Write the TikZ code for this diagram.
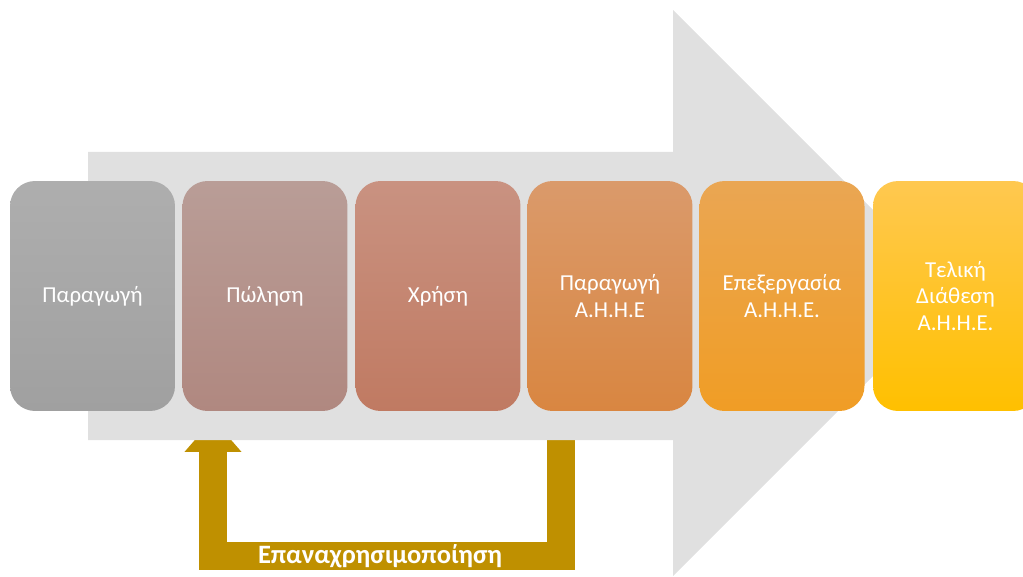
\documentclass[tikz,border=0pt]{standalone}
\usepackage{fontspec}
\setmainfont{Carlito}
\usetikzlibrary{arrows.meta}
\definecolor{arrowgray}{HTML}{E0E0E0}
\definecolor{reusegold}{HTML}{BF9000}
\tikzset{
  stage/.style={rounded corners=0.5cm,minimum width=3.3cm,minimum height=4.6cm,
    inner sep=0pt,align=center,text=white,font=\fontsize{13}{15.3}\selectfont},
  reuse/.style={draw=reusegold,line width=0.56cm,line join=miter,
    -{Triangle[width=1.1cm,length=0.66cm]}}
}

\begin{document}
\begin{tikzpicture}[x=0.02cm,y=-0.02cm]
\clip (0,0) rectangle (1023,577);
% reuse loop, under the big arrow
\coordinate (reuseStart) at (561,420);
\coordinate (reuseEnd) at (213,419);
\draw[reuse] (reuseStart) -- (561,556) -- (213,556) -- (reuseEnd);
\node[text=white,font=\fontsize{15.1}{17}\selectfont\bfseries] (reuseLabel) at (380,556) {Επαναχρησιμοποίηση};
% big arrow
\fill[arrowgray] (88,152) -- (673,152) -- (673,10) -- (956,293) -- (673,576) -- (673,440) -- (88,440) -- cycle;
% stages
\node[stage,top color={rgb,255:red,174;green,174;blue,174},bottom color={rgb,255:red,160;green,160;blue,160}] (prod) at (92.5,296) {Παραγωγή};
\node[stage,top color={rgb,255:red,185;green,157;blue,151},bottom color={rgb,255:red,176;green,136;blue,128}] (sale) at (265,296) {Πώληση};
\node[stage,top color={rgb,255:red,201;green,146;blue,129},bottom color={rgb,255:red,192;green,122;blue,98}] (use) at (438,296) {Χρήση};
\node[stage,top color={rgb,255:red,218;green,154;blue,107},bottom color={rgb,255:red,217;green,134;blue,65}] (waste) at (610,296) {Παραγωγή\\Α.Η.Η.Ε};
\node[stage,top color={rgb,255:red,234;green,166;blue,83},bottom color={rgb,255:red,240;green,157;blue,37}] (proc) at (782,296) {Επεξεργασία\\Α.Η.Η.Ε.};
\node[stage,top color={rgb,255:red,255;green,200;blue,80},bottom color={rgb,255:red,255;green,192;blue,0}] (disp) at (955.5,296) {Τελική\\Διάθεση\\Α.Η.Η.Ε.};
\end{tikzpicture}
\end{document}
